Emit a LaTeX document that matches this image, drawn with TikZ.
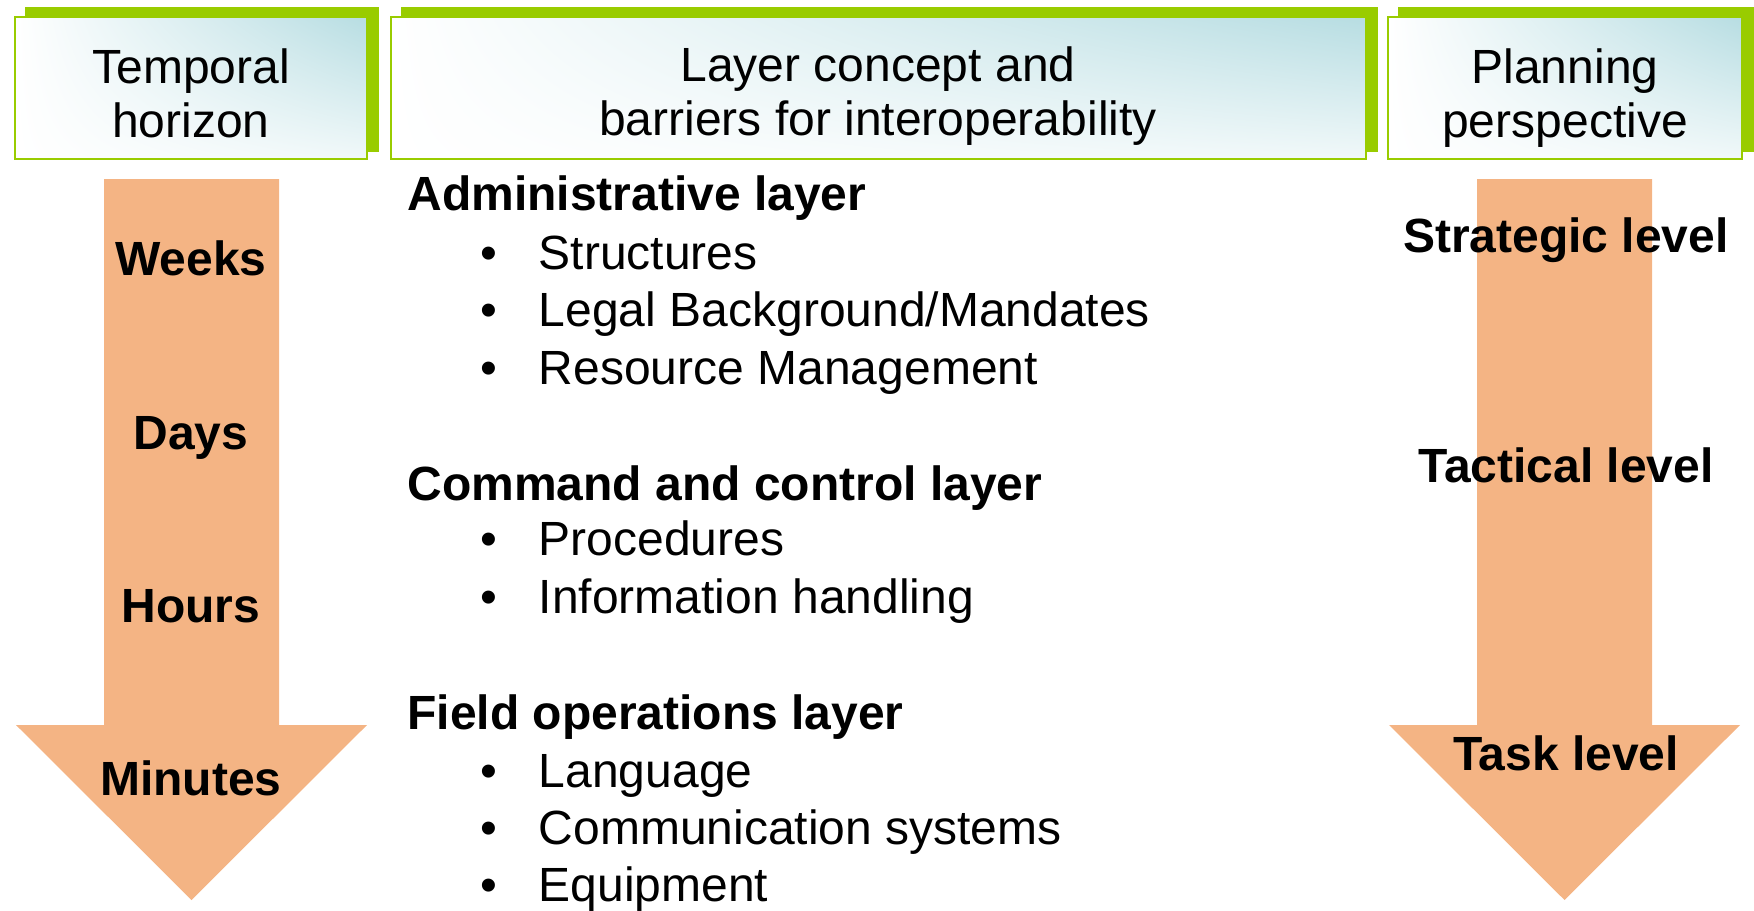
\documentclass[tikz,border=0pt]{standalone}
\usepackage{fontspec}
\setmainfont{Liberation Sans}
\usepackage{tikz}
\usetikzlibrary{shadings, positioning}
\definecolor{hdgreen}{RGB}{153,204,0}
\definecolor{hdblue}{RGB}{183,221,226}
\definecolor{arrorange}{RGB}{244,180,132}
\tikzstyle{hdr} = [draw=hdgreen, line width=1pt, upper right=hdblue, upper left=white, lower left=white, lower right=white!80!hdblue]
\tikzstyle{arr} = [fill=arrorange]
\tikzstyle{hdrtext} = [align=center, inner sep=0pt, anchor=base, font=\fontsize{24}{27}\selectfont]
\tikzstyle{lvl} = [anchor=base, inner sep=0pt, font=\fontsize{24}{28}\selectfont\bfseries]
\tikzstyle{layer} = [anchor=base west, inner sep=0pt, font=\fontsize{24}{28}\selectfont\bfseries]
\tikzstyle{item} = [anchor=base west, inner sep=0pt, font=\fontsize{24}{28}\selectfont]
\newcommand{\bul}{\makebox[29.25pt][l]{•}}

\begin{document}
\begin{tikzpicture}[x=0.5pt, y=-0.5pt]
\useasboundingbox (0,0) rectangle (1754,910);

% header frames with green back plate
\foreach \l/\r in {15/367, 391/1366, 1388/1742}{
  \fill[hdgreen] (\l+10,7) rectangle (\r+12,152);
  \draw[hdr] (\l,17) rectangle (\r,159);
}

% the two big arrows
\foreach \c in {191.5, 1564.5}{
  \fill[arr] (\c-87.5,179) -- (\c+87.5,179) -- (\c+87.5,725) -- (\c+175.5,725)
    -- (\c,900) -- (\c-175.5,725) -- (\c-87.5,725) -- cycle;
}

% base of a two-line node is its last line
\node[hdrtext] (temporal) at (191,137) {Temporal\\horizon};
\node[hdrtext] (concept) at (878,135) {Layer concept and\\barriers for interoperability};
\node[hdrtext] (planning) at (1565,137) {Planning\\perspective};

% temporal horizon
\node[lvl] (weeks) at (191,275) {Weeks};
\node[lvl] (days) at (191,449) {Days};
\node[lvl] (hours) at (191,622) {Hours};
\node[lvl] (minutes) at (191,795) {Minutes};

% planning perspective
\node[lvl] (strategic) at (1566,252) {Strategic level};
\node[lvl] (tactical) at (1566,482) {Tactical level};
\node[lvl] (task) at (1566,770) {Task level};

% layers
\node[layer] (admin) at (407,210) {Administrative layer};
\node[item] (struct) at (480,269) {\bul Structures};
\node[item] (legal) at (480,326) {\bul Legal Background/Mandates};
\node[item] (resource) at (480,384) {\bul Resource Management};

\node[layer] (command) at (407,500) {Command and control layer};
\node[item] (proc) at (480,555) {\bul Procedures};
\node[item] (info) at (480,613) {\bul Information handling};

\node[layer] (field) at (407,729) {Field operations layer};
\node[item] (lang) at (480,787) {\bul Language};
\node[item] (comm) at (480,844) {\bul Communication systems};
\node[item] (equip) at (480,901) {\bul Equipment};

\end{tikzpicture}
\end{document}
